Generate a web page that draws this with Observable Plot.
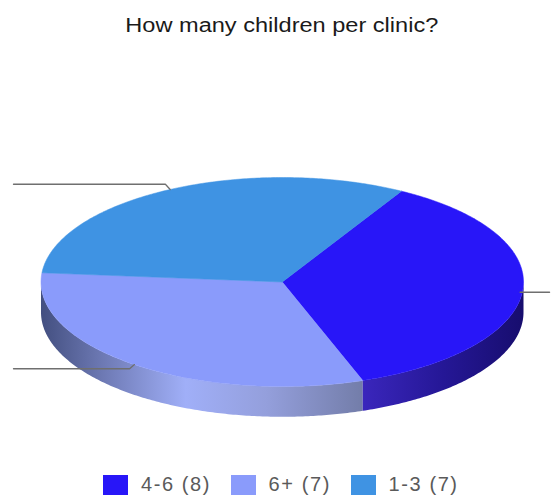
<!DOCTYPE html>
<html>
<head>
<meta charset="utf-8">
<script src="https://cdn.jsdelivr.net/npm/d3@7"></script>
<script src="https://cdn.jsdelivr.net/npm/@observablehq/plot@0.6"></script>
<style>
  html, body { margin: 0; padding: 0; background: #fff; }
  body { width: 553px; height: 495px; overflow: hidden; font-family: "Liberation Sans", Arial, sans-serif; }
  #title { height: 45px; line-height: 50px; text-align: center; font-size: 20px; color: #1a1a1a; white-space: nowrap; }
  #title span { display: inline-block; transform: scaleX(1.178); margin-left: 10px; }
  #chart svg { display: block; }
  #legend { height: 35px; padding-left: 103px; }
  #legend > div { min-height: 20px !important; margin: 13px 0 0 0 !important; display: flex !important; flex-wrap: nowrap !important; align-items: center !important; font-family: inherit !important; font-size: 20px !important; letter-spacing: 1.6px !important; color: #5a5a5a !important; }
  #legend > div > span { display: inline-flex !important; align-items: center !important; margin-right: 19.5px !important; }
  #legend > div > span > svg { margin-right: 13px !important; }
</style>
</head>
<body>
<div id="title"><span></span></div>
<div id="chart"></div>
<div id="legend"></div>
<script>
const chartTitle = "How many children per clinic?";
const categories = ["4-6", "6+", "1-3"];
const counts = [8, 7, 7];
const sliceColors = ["#2816f8", "#8a9bfb", "#3f93e3"];
const labels = categories.map((c, i) => `${c} (${counts[i]})`);

// Pie layout: angles run clockwise from the top of the tilted disc.
const firstAngle = 29.6 * Math.PI / 180;
const rimDepth = 0.29; // rim thickness, in disc radii
const arcs = d3.pie().sort(null).startAngle(firstAngle).endAngle(firstAngle + 2 * Math.PI)(counts);
const onDisc = (a, drop = 0) => ({x: Math.sin(a), y: Math.cos(a) - drop});
const arcPoints = (a0, a1, drop = 0) => {
  const n = Math.max(2, Math.ceil(Math.abs(a1 - a0) * 90));
  return d3.range(n + 1).map(i => onDisc(a0 + (a1 - a0) * i / n, drop));
};

// Top faces of the slices.
const faces = arcs.flatMap((arc, i) =>
  [{x: 0, y: 0}, ...arcPoints(arc.startAngle, arc.endAngle), {x: 0, y: 0}]
    .map(p => ({...p, label: labels[i]})));

// Rim of a slice, restricted to the front half of the disc.
const rim = (arc) => {
  const a0 = Math.max(arc.startAngle, Math.PI / 2);
  const a1 = Math.min(arc.endAngle, 3 * Math.PI / 2);
  return [...arcPoints(a0, a1), ...arcPoints(a1, a0, rimDepth)];
};

// Leader lines start at each slice's middle angle and run out past the disc.
const mid = arcs.map(a => (a.startAngle + a.endAngle) / 2);
const leaderRight = (() => {
  const p = onDisc(mid[0]);
  return [{x: p.x - 0.01, y: p.y - 0.01}, {x: 1.108, y: p.y - 0.01}];
})();
const leaderLowerLeft = (() => {
  const p = onDisc(mid[1]);
  return [{x: p.x, y: p.y}, {x: p.x - 0.02, y: p.y - 0.04}, {x: -1.114, y: p.y - 0.04}];
})();
const leaderUpperLeft = (() => {
  const p = onDisc(mid[2]);
  return [{x: p.x, y: p.y}, {x: p.x - 0.02, y: p.y + 0.05}, {x: -1.114, y: p.y + 0.05}];
})();

// Horizontal shading of the two visible rim pieces.
const gradients = () => {
  const defs = d3.create("svg:defs");
  const add = (id, stops) => {
    const g = defs.append("linearGradient").attr("id", id);
    for (const [o, c] of stops) g.append("stop").attr("offset", o).attr("stop-color", c);
  };
  add("rim-light", [[0, "#434f80"], [0.2, "#6f7bb6"], [0.45, "#a0aff8"], [0.7, "#949fdc"], [1, "#737da9"]]);
  add("rim-dark", [[0, "#3a26bc"], [0.5, "#251796"], [1, "#170d6e"]]);
  return defs.node();
};

document.querySelector("#title span").textContent = chartTitle;

const colorScale = {domain: labels, range: sliceColors};
const leaderStyle = {x: "x", y: "y", stroke: "#6f6f6f", strokeWidth: 1.3, curve: "linear"};

document.getElementById("chart").append(Plot.plot({
  width: 553,
  height: 415,
  marginTop: 0, marginBottom: 0, marginLeft: 40.5, marginRight: 30,
  x: {domain: [-1, 1], axis: null},
  y: {domain: [-1, 1], range: [341, 132], axis: null},
  color: colorScale,
  marks: [
    gradients,
    Plot.line(rim(arcs[1]), {x: "x", y: "y", fill: "url(#rim-light)", stroke: "none", curve: "linear"}),
    Plot.line(rim(arcs[0]), {x: "x", y: "y", fill: "url(#rim-dark)", stroke: "none", curve: "linear"}),
    Plot.line(faces, {x: "x", y: "y", z: "label", fill: "label", stroke: "label", strokeWidth: 0.5, curve: "linear"}),
    Plot.line(leaderRight, leaderStyle),
    Plot.line(leaderLowerLeft, leaderStyle),
    Plot.line(leaderUpperLeft, leaderStyle)
  ]
}));

document.getElementById("legend").append(Plot.legend({
  color: {...colorScale, type: "ordinal"},
  legend: "swatches",
  swatchWidth: 25,
  swatchHeight: 20
}));
</script>
</body>
</html>
